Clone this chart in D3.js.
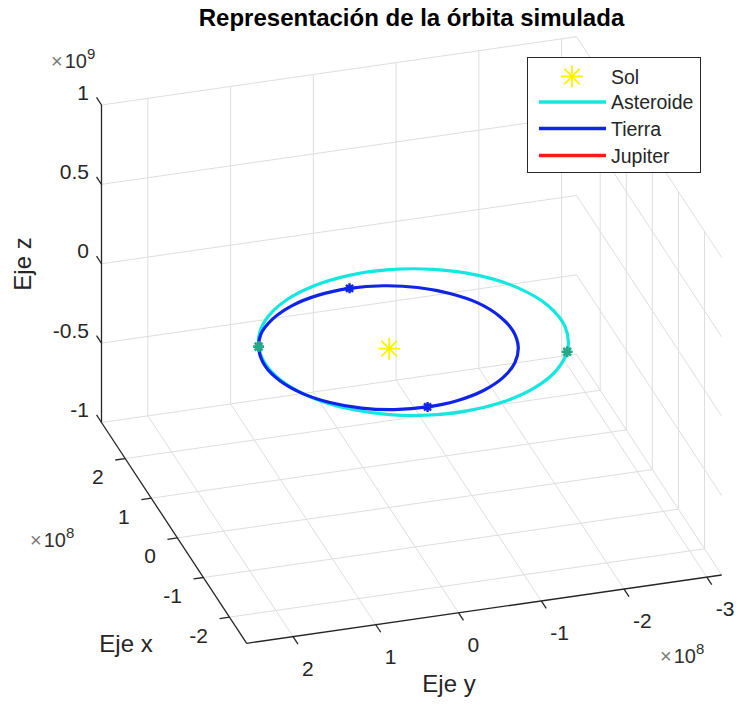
<!DOCTYPE html>
<html>
<head>
<meta charset="utf-8">
<script src="https://cdn.jsdelivr.net/npm/d3@7"></script>
<style>
  body { margin: 0; background: #ffffff; }
  svg { display: block; }
  text { font-family: "Liberation Sans", Arial, Helvetica, sans-serif; fill: #262626; }
</style>
</head>
<body>
<svg id="chart" width="738" height="704"></svg>
<script>
// ---- data (positions in units of 1e8 km, orbits lie in the z = 0 plane) ----
const xLimits = [-2.66, 2.91];
const yLimits = [-3.18, 2.56];
const zLimits = [-10, 10];

const xTicks = [-2, -1, 0, 1, 2];
const xTickLabels = ["-2", "-1", "0", "1", "2"];
const yTicks = [-3, -2, -1, 0, 1, 2];
const yTickLabels = ["-3", "-2", "-1", "0", "1", "2"];
const zTicks = [-10, -5, 0, 5, 10];
const zTickLabels = ["-1", "-0.5", "0", "0.5", "1"];

const sunPosition = [0, 0, 0];

const earthX = [1.521, 1.468, 1.314, 1.070, 0.754, 0.389, 0.000, -0.385, -0.742, -1.045, -1.277, -1.422,
                -1.471, -1.422, -1.277, -1.045, -0.742, -0.385, 0.000, 0.389, 0.754, 1.070, 1.314, 1.468];
const earthY = [0.000, 0.393, 0.759, 1.070, 1.314, 1.451, 1.496, 1.438, 1.285, 1.045, 0.737, 0.381,
                0.000, -0.381, -0.737, -1.045, -1.285, -1.438, -1.496, -1.451, -1.314, -1.070, -0.759, -0.393];

const asteroidX = [-0.321, -0.685, -1.017, -1.301, -1.521, -1.658, -1.695, -1.614, -1.405, -1.066, -0.615, -0.088,
                   0.462, 0.974, 1.393, 1.680, 1.821, 1.820, 1.695, 1.471, 1.173, 0.826, 0.449, 0.062];
const asteroidY = [1.436, 1.311, 1.106, 0.826, 0.477, 0.070, -0.379, -0.844, -1.292, -1.680, -1.963, -2.100,
                   -2.067, -1.863, -1.515, -1.066, -0.571, -0.076, 0.379, 0.769, 1.079, 1.301, 1.434, 1.478];

const jupiterX = [7.78, 6.74, 3.89, 0.00, -3.89, -6.74, -7.78, -6.74, -3.89, 0.00, 3.89, 6.74];
const jupiterY = [0.00, 3.89, 6.74, 7.78, 6.74, 3.89, 0.00, -3.89, -6.74, -7.78, -6.74, -3.89];

const earthMarkersX = [1.521, -1.471];
const earthMarkersY = [0.000, 0.000];
const asteroidMarkersX = [0.480, -0.661];
const asteroidMarkersY = [1.427, -1.942];

const legendLabels = ["Sol", "Asteroide", "Tierra", "Jupiter"];

// ---- styling ----
const colSun = "#fff200";
const colAsteroid = "#14e6e0";
const colEarth = "#1024e8";
const colJupiter = "#f51a1e";
const colAsteroidMarker = "#22a987";
const colGrid = "#dedede";
const colAxis = "#262626";

const svg = d3.select("#chart");

// normalized position of a value along each axis
const sx = d3.scaleLinear().domain(xLimits).range([0, 1]);
const sy = d3.scaleLinear().domain(yLimits).range([0, 1]);
const sz = d3.scaleLinear().domain(zLimits).range([0, 1]);

// screen position of the (xmin, ymin, zmin) corner and on-screen span of each axis
const corner = [721.7, 575];
const spanX = [-145.2, -220.8];
const spanY = [-475, 68.3];
const spanZ = [0, -317.5];

function project(x, y, z) {
  const u = sx(x), v = sy(y), w = sz(z);
  return [corner[0] + u * spanX[0] + v * spanY[0] + w * spanZ[0],
          corner[1] + u * spanX[1] + v * spanY[1] + w * spanZ[1]];
}
function unit(v) { const l = Math.hypot(v[0], v[1]); return [v[0] / l, v[1] / l]; }

const [x0, x1] = xLimits, [y0, y1] = yLimits, [z0, z1] = zLimits;

// ---- grid on the floor and the two back walls ----
const grid = [];
xTicks.forEach(t => {
  grid.push([[t, y0, z0], [t, y1, z0]]);   // floor
  grid.push([[t, y0, z0], [t, y0, z1]]);   // wall y = ymin
});
yTicks.forEach(t => {
  grid.push([[x0, t, z0], [x1, t, z0]]);   // floor
  grid.push([[x1, t, z0], [x1, t, z1]]);   // wall x = xmax
});
zTicks.forEach(t => {
  grid.push([[x1, y0, t], [x1, y1, t]]);   // wall x = xmax
  grid.push([[x0, y0, t], [x1, y0, t]]);   // wall y = ymin
});

const line = d3.line();
svg.append("g").selectAll("path").data(grid).join("path")
  .attr("d", d => line(d.map(p => project(...p))))
  .attr("fill", "none").attr("stroke", colGrid).attr("stroke-width", 1);

// ---- axis lines ----
const axes = [
  [[x1, y1, z0], [x1, y1, z1]],   // z
  [[x0, y1, z0], [x1, y1, z0]],   // x
  [[x0, y0, z0], [x0, y1, z0]]    // y
];
svg.append("g").selectAll("path").data(axes).join("path")
  .attr("d", d => line(d.map(p => project(...p))))
  .attr("fill", "none").attr("stroke", colAxis).attr("stroke-width", 1.3);

// ---- ticks and tick labels ----
const tickG = svg.append("g");
const dirZ = unit(spanX).map(v => v * 9);
const dirX = unit(spanY).map(v => v * 10);
const dirY = unit(spanX).map(v => -v * 9);
const fsTick = 21;

zTicks.forEach((t, i) => {
  const p = project(x1, y1, t);
  tickG.append("line").attr("x1", p[0]).attr("y1", p[1])
    .attr("x2", p[0] + dirZ[0]).attr("y2", p[1] + dirZ[1])
    .attr("stroke", colAxis).attr("stroke-width", 1.3);
  tickG.append("text").attr("x", p[0] - 12.5).attr("y", p[1] - 13 + 0.36 * fsTick)
    .attr("text-anchor", "end").attr("font-size", fsTick).text(zTickLabels[i]);
});
xTicks.forEach((t, i) => {
  const p = project(t, y1, z0);
  tickG.append("line").attr("x1", p[0]).attr("y1", p[1])
    .attr("x2", p[0] + dirX[0]).attr("y2", p[1] + dirX[1])
    .attr("stroke", colAxis).attr("stroke-width", 1.3);
  tickG.append("text").attr("x", p[0] - 21.5).attr("y", p[1] + 18 + 0.36 * fsTick)
    .attr("text-anchor", "end").attr("font-size", fsTick).text(xTickLabels[i]);
});
yTicks.forEach((t, i) => {
  const p = project(x0, t, z0);
  tickG.append("line").attr("x1", p[0]).attr("y1", p[1])
    .attr("x2", p[0] + dirY[0]).attr("y2", p[1] + dirY[1])
    .attr("stroke", colAxis).attr("stroke-width", 1.3);
  tickG.append("text").attr("x", p[0] + 9).attr("y", p[1] + 31.5 + 0.36 * fsTick)
    .attr("text-anchor", "start").attr("font-size", fsTick).text(yTickLabels[i]);
});

// exponent labels
function exponent(x, y, power) {
  const t = svg.append("text").attr("x", x).attr("y", y).attr("font-size", 20).style("fill", "#4a4a4a");
  t.append("tspan").style("fill", "#7a7a7a").text("\u00d7");
  t.append("tspan").attr("dx", 2).style("fill", "#303030").text("10");
  t.append("tspan").attr("font-size", 15).attr("dy", -9).style("fill", "#303030").text(power);
}
exponent(51, 68, "9");
exponent(30, 547, "8");
exponent(660, 663, "8");

// axis titles
svg.append("text").attr("transform", "translate(31,264) rotate(-90)")
  .attr("text-anchor", "middle").attr("font-size", 24).text("Eje z");
svg.append("text").attr("x", 126).attr("y", 652)
  .attr("text-anchor", "middle").attr("font-size", 24).text("Eje x");
svg.append("text").attr("x", 449).attr("y", 692)
  .attr("text-anchor", "middle").attr("font-size", 24).text("Eje y");

// chart title
svg.append("text").attr("x", 411.5).attr("y", 26)
  .attr("text-anchor", "middle").attr("font-size", 24).attr("font-weight", "bold")
  .style("fill", "#000").text("Representación de la órbita simulada");

// ---- orbits ----
function inside(x, y, z) {
  return x >= x0 && x <= x1 && y >= y0 && y <= y1 && z >= z0 && z <= z1;
}
const orbitLine = d3.line().curve(d3.curveCatmullRomClosed.alpha(0.5));
function drawOrbit(xs, ys, color) {
  const pts = xs.map((x, i) => [x, ys[i], 0]).filter(p => inside(...p));
  if (pts.length < 3) return;
  svg.append("path").attr("d", orbitLine(pts.map(p => project(...p))))
    .attr("fill", "none").attr("stroke", color).attr("stroke-width", 3.2);
}

function asterisk(r) {
  const d = r / Math.SQRT2;
  return `M${-r},0L${r},0M0,${-r}L0,${r}M${-d},${-d}L${d},${d}M${-d},${d}L${d},${-d}`;
}

// sun
const sp = project(...sunPosition);
svg.append("path").attr("transform", `translate(${sp[0]},${sp[1]})`)
  .attr("d", asterisk(11)).attr("stroke", colSun).attr("stroke-width", 1.8).attr("fill", "none");

drawOrbit(asteroidX, asteroidY, colAsteroid);
drawOrbit(earthX, earthY, colEarth);
drawOrbit(jupiterX, jupiterY, colJupiter);

asteroidMarkersX.forEach((x, i) => {
  const p = project(x, asteroidMarkersY[i], 0);
  svg.append("path").attr("transform", `translate(${p[0]},${p[1]})`)
    .attr("d", asterisk(5.5)).attr("stroke", colAsteroidMarker).attr("stroke-width", 2.6).attr("fill", "none");
});
earthMarkersX.forEach((x, i) => {
  const p = project(x, earthMarkersY[i], 0);
  svg.append("path").attr("transform", `translate(${p[0]},${p[1]})`)
    .attr("d", asterisk(5)).attr("stroke", colEarth).attr("stroke-width", 2.4).attr("fill", "none");
});

// ---- legend ----
const lg = svg.append("g");
lg.append("rect").attr("x", 527.5).attr("y", 57.5).attr("width", 173).attr("height", 115)
  .attr("fill", "#fff").attr("stroke", colAxis).attr("stroke-width", 1);
const rowY = [76.5, 102, 128.5, 155.5];
const legendColors = [colSun, colAsteroid, colEarth, colJupiter];
legendLabels.forEach((lab, i) => {
  if (i === 0) {
    lg.append("path").attr("transform", `translate(572,${rowY[i]})`)
      .attr("d", asterisk(11)).attr("stroke", colSun).attr("stroke-width", 1.8).attr("fill", "none");
  } else {
    lg.append("line").attr("x1", 539).attr("x2", 606).attr("y1", rowY[i]).attr("y2", rowY[i])
      .attr("stroke", legendColors[i]).attr("stroke-width", 3.3);
  }
  lg.append("text").attr("x", 611).attr("y", rowY[i] + 7).attr("font-size", 19.5).text(lab);
});
</script>
</body>
</html>
